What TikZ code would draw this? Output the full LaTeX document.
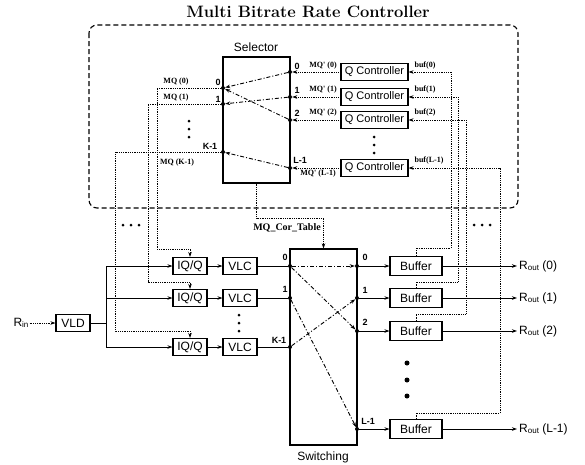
\documentclass[tikz,border=0pt]{standalone}
\usepackage{fontspec}
\setsansfont{Liberation Sans}
\newfontfamily\tnr{Liberation Serif}
\usetikzlibrary{arrows.meta}
\begin{document}
\begin{tikzpicture}[x=1pt,y=-1pt,
  box/.style={draw, line width=1.1pt, inner sep=0pt, font=\sffamily\fontsize{12}{12}\selectfont},
  ctl/.style={densely dotted, line width=0.8pt},
  dat/.style={line width=1pt},
  sel/.style={dash pattern=on 4pt off 2pt on 1pt off 2pt, line width=0.9pt},
  arr/.style={-{Stealth[length=5pt,width=3.5pt]}},
  port/.style={circle, fill, inner sep=0pt, minimum size=4pt},
  plab/.style={font=\sffamily\bfseries\fontsize{9}{9}\selectfont, inner sep=0pt},
  slab/.style={font=\tnr\bfseries\fontsize{8}{8}\selectfont, inner sep=0pt},
  dotc/.style={circle, fill, inner sep=0pt, minimum size=3pt},
  bdot/.style={circle, fill, inner sep=0pt, minimum size=5pt},
  outl/.style={anchor=west, inner sep=2pt, font=\sffamily\fontsize{12}{12}\selectfont}
]
\useasboundingbox (0,0) rectangle (585,464);

% title and controller frame
\node[font=\bfseries\fontsize{16.5}{16.5}\selectfont, inner sep=0pt] (title) at (308,12) {Multi Bitrate Rate Controller};
\draw[line width=1.1pt, dash pattern=on 5pt off 3pt, rounded corners=8pt] (89,25) rectangle (518,208);

% selector
\node[box, minimum width=67pt, minimum height=126pt] (sel) at (256.5,120) {};
\node[font=\sffamily\fontsize{12}{12}\selectfont, inner sep=0pt] (sellab) at (256,47) {Selector};
\node[port] (sl0) at (223,88) {};
\node[port] (sl1) at (223,104) {};
\node[port] (slk) at (223,152) {};
\node[port] (sr0) at (290,72) {};
\node[port] (sr1) at (290,97) {};
\node[port] (sr2) at (290,120) {};
\node[port] (srl) at (290,168) {};
\draw[sel,arr] (sr0) -- (sl0);
\draw[sel,arr] (sr1) -- (sl1);
\draw[sel,arr] (sr2) -- (sl0);
\draw[sel,arr] (srl) -- (slk);
\node[plab] (tsl0) at (218,82) {0};
\node[plab] (tsl1) at (218,99) {1};
\node[plab] (tslk) at (210,146) {K-1};
\node[plab] (tsr0) at (297,66) {0};
\node[plab] (tsr1) at (297,90) {1};
\node[plab] (tsr2) at (297,113) {2};
\node[plab] (tsrl) at (300,160) {L-1};
\node[dotc] (sd1) at (189,121) {};
\node[dotc] (sd2) at (189,129) {};
\node[dotc] (sd3) at (189,137) {};

% Q controllers
\foreach \n/\y in {0/72,1/97,2/120,l/168}{
  \node[box, font=\sffamily\fontsize{11}{11}\selectfont, minimum width=67pt, minimum height=17pt] (qc\n) at (374.5,\y) {Q Controller};
}
\draw[ctl,arr] (qc0.west) -- (sr0);
\draw[ctl,arr] (qc1.west) -- (sr1);
\draw[ctl,arr] (qc2.west) -- (sr2);
\draw[ctl,arr] (qcl.west) -- (srl);
\node[slab] (mqp0) at (323,66) {MQ' (0)};
\node[slab] (mqp1) at (323,90) {MQ' (1)};
\node[slab] (mqp2) at (323,113) {MQ' (2)};
\node[slab] (mqpl) at (318,174) {MQ' (L-1)};
\node[slab] (bl0) at (425,66) {buf(0)};
\node[slab] (bl1) at (425,90) {buf(1)};
\node[slab] (bl2) at (425,113) {buf(2)};
\node[slab] (bll) at (429,161) {buf(L-1)};
\node[dotc] (qd1) at (374,137) {};
\node[dotc] (qd2) at (374,145) {};
\node[dotc] (qd3) at (374,153) {};

% MQ labels
\node[slab] (mq0) at (176,82) {MQ (0)};
\node[slab] (mq1) at (176,98) {MQ (1)};
\node[slab] (mqk) at (177,163) {MQ (K-1)};

% input side
\node[outl, anchor=center, inner sep=1pt] (rin) at (21,323) {R\raisebox{-1pt}{\fontsize{8}{8}\selectfont in}};
\node[box, minimum width=34pt, minimum height=17pt] (vld) at (73,323) {VLD};
\draw[ctl,arr] (rin.east) -- (vld.west);
\coordinate (bus) at (106,323);
\foreach \n/\y in {0/266,1/298,2/347}{
  \node[box, minimum width=34pt, minimum height=17pt] (iq\n) at (190,\y) {IQ/Q};
  \node[box, minimum width=34pt, minimum height=17pt] (vlc\n) at (240,\y) {VLC};
  \draw[dat,arr] (iq\n.east) -- (vlc\n.west);
}
\draw[dat] (vld.east) -- (bus);
\draw[dat,arr] (bus) |- (iq0.west);
\draw[dat,arr] (bus) |- (iq1.west);
\draw[dat,arr] (bus) |- (iq2.west);
\node[dotc] (vd1) at (239,315) {};
\node[dotc] (vd2) at (239,323) {};
\node[dotc] (vd3) at (239,331) {};

% MQ feedback into IQ/Q
\coordinate (c0) at (157,249);
\coordinate (c1) at (148,282);
\coordinate (c2) at (115,331);
\draw[ctl,arr] (sl0) -| (c0) -| (iq0.north);
\draw[ctl,arr] (sl1) -| (c1) -| (iq1.north);
\draw[ctl,arr] (slk) -| (c2) -| (iq2.north);
\node[dotc] (ld1) at (123,225) {};
\node[dotc] (ld2) at (131,225) {};
\node[dotc] (ld3) at (139,225) {};

% switching
\node[box, minimum width=67pt, minimum height=196pt] (sw) at (323.5,347) {};
\node[font=\sffamily\fontsize{12}{12}\selectfont, inner sep=0pt] (swlab) at (323,457) {Switching};
\node[port] (wl0) at (290,266) {};
\node[port] (wl1) at (290,298) {};
\node[port] (wlk) at (290,347) {};
\node[port] (wr0) at (357,266) {};
\node[port] (wr1) at (357,298) {};
\node[port] (wr2) at (357,331) {};
\node[port] (wrl) at (357,429) {};
\draw[dat] (vlc0.east) -- (wl0);
\draw[dat] (vlc1.east) -- (wl1);
\draw[dat] (vlc2.east) -- (wlk);
\draw[sel,arr] (wl0) -- (wr0);
\draw[sel,arr] (wl0) -- (wr2);
\draw[sel,arr] (wl1) -- (wrl);
\draw[sel,arr] (wlk) -- (wr1);
\node[plab] (twl0) at (285,257) {0};
\node[plab] (twl1) at (285,289) {1};
\node[plab] (twlk) at (279,340) {K-1};
\node[plab] (twr0) at (365,257) {0};
\node[plab] (twr1) at (365,290) {1};
\node[plab] (twr2) at (365,322) {2};
\node[plab] (twrl) at (368,421) {L-1};

% MQ_Cor_Table
\coordinate (mc) at (323.5,218);
\draw[ctl,arr] (sel.south) |- (mc) -- (sw.north);
\node[font=\tnr\bfseries\fontsize{10}{10}\selectfont, inner sep=0pt] (mct) at (287,228) {MQ\_Cor\_Table};

% buffers and outputs
\foreach \n/\y/\t in {0/266/0,1/298/1,2/331/2,l/429/L-1}{
  \node[box, minimum width=52pt, minimum height=19pt] (bf\n) at (416,\y) {Buffer};
  \node[outl] (ro\n) at (517,\y) {R\raisebox{-1pt}{\fontsize{8}{8}\selectfont out} (\t)};
  \draw[dat,arr] (bf\n.east) -- (ro\n.west);
}
\draw[dat,arr] (wr0) -- (bf0.west);
\draw[dat,arr] (wr1) -- (bf1.west);
\draw[dat,arr] (wr2) -- (bf2.west);
\draw[dat,arr] (wrl) -- (bfl.west);
\node[bdot] (bd1) at (407,363) {};
\node[bdot] (bd2) at (407,380) {};
\node[bdot] (bd3) at (407,396) {};

% buffer feedback to Q controllers
\coordinate (f0) at (451,248);
\coordinate (f1) at (458,282);
\coordinate (f2) at (466,314);
\coordinate (fl) at (500,413);
\draw[ctl,arr] (bf0.north) |- (f0) |- (qc0.east);
\draw[ctl,arr] (bf1.north) |- (f1) |- (qc1.east);
\draw[ctl,arr] (bf2.north) |- (f2) |- (qc2.east);
\draw[ctl,arr] (bfl.north) |- (fl) |- (qcl.east);
\node[dotc] (rd1) at (474,225) {};
\node[dotc] (rd2) at (482,225) {};
\node[dotc] (rd3) at (490,225) {};
\end{tikzpicture}
\end{document}
